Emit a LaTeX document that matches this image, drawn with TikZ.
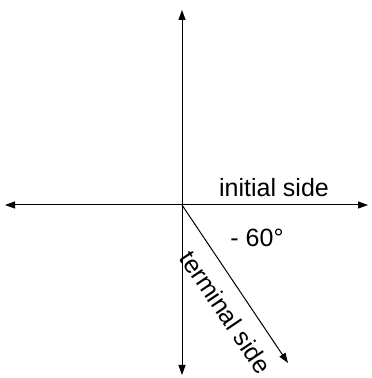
\documentclass[tikz,border=0pt]{standalone}
\usepackage{fontspec}
\setmainfont{Liberation Sans}
\usetikzlibrary{arrows.meta, positioning, calc}

\begin{document}
\begin{tikzpicture}[
    x=1pt, y=1pt,
    axis/.style={-{Triangle[length=10pt, width=7pt]}, line width=1pt},
    lbl/.style={font=\fontsize{25}{28}\selectfont, inner sep=0pt}
]
    \useasboundingbox (0,0) rectangle (372,378);

    % origin and axis ends
    \coordinate (origin) at (182,173);
    \coordinate (top) at (182,368);
    \coordinate (bottom) at (182,3);
    \coordinate (left) at (5,173);
    \coordinate (right) at (368,173);
    \coordinate (terminal) at (288,15);

    % axes
    \draw[axis] (origin) -- (top);
    \draw[axis] (origin) -- (bottom);
    \draw[axis] (origin) -- (left);
    \draw[axis] (origin) -- (right);

    % terminal side
    \draw[axis] (origin) -- (terminal);

    % labels
    \node[lbl, anchor=base] (initial) at (274,181) {initial side};
    \node[lbl] (angle) at (257,140) {- 60°};
    \node[lbl, rotate=-56] (termlbl) at (226,66) {terminal side};
\end{tikzpicture}
\end{document}
